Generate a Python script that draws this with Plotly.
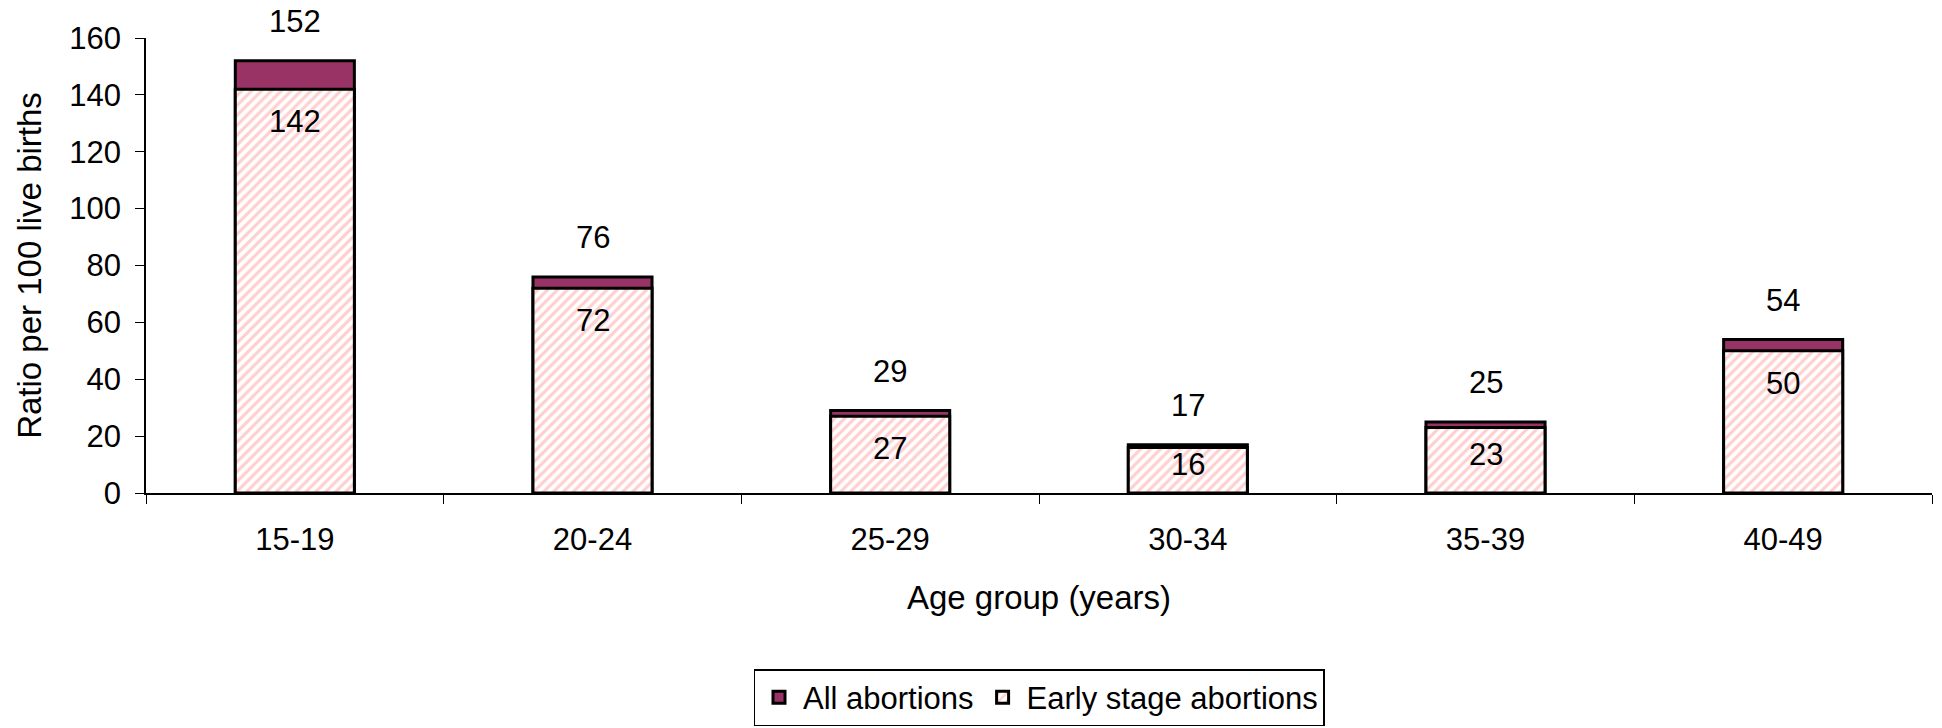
import plotly.graph_objects as go

# Abortion ratios per 100 live births, by age group of the woman
age_groups = ["15-19", "20-24", "25-29", "30-34", "35-39", "40-49"]
all_abortions = [152, 76, 29, 17, 25, 54]
early_stage = [142, 72, 27, 16, 23, 50]

FONT = "Liberation Sans, Arial, sans-serif"
FS = 31        # tick labels, value labels, legend
FS_TITLE = 33  # axis titles
PLUM = "#993366"
PINK = "#ff9f9f"

fig = go.Figure()

fig.add_trace(go.Bar(
    x=age_groups, y=all_abortions, name="All abortions",
    marker=dict(color=PLUM, line=dict(color="black", width=3)),
))
fig.add_trace(go.Bar(
    x=age_groups, y=early_stage, name="Early stage abortions",
    marker=dict(
        color="white",
        line=dict(color="black", width=3),
        pattern=dict(shape="/", fgcolor=PINK, bgcolor="white", size=7, solidity=0.45),
    ),
))

# value labels: totals above each bar, early-stage values inside the lower segment
for g, tot, early in zip(age_groups, all_abortions, early_stage):
    fig.add_annotation(x=g, y=tot, text=str(tot), showarrow=False,
                       yanchor="middle", yshift=39,
                       font=dict(family=FONT, size=FS, color="black"))
    fig.add_annotation(x=g, y=max(early - 11.5, early / 2 + 2), text=str(early),
                       showarrow=False, yanchor="middle",
                       font=dict(family=FONT, size=FS, color="black"))

fig.update_layout(
    width=1942, height=728,
    barmode="overlay", bargap=0.6,
    paper_bgcolor="white", plot_bgcolor="white",
    font=dict(family=FONT, size=FS, color="black"),
    margin=dict(l=146, r=10, t=38, b=235, autoexpand=False),
    showlegend=True,
    legend=dict(
        orientation="h", x=0.5, xanchor="center", y=-0.387, yanchor="top",
        bordercolor="black", borderwidth=1.5, font=dict(size=31),
        traceorder="normal", itemwidth=38,
    ),
)

fig.update_xaxes(
    showline=True, linecolor="black", linewidth=1.5,
    ticks="outside", ticklen=9, tickcolor="black", tickson="boundaries",
    ticklabelstandoff=18,
    title=dict(text="Age group (years)", standoff=30, font=dict(size=FS_TITLE)),
    showgrid=False, zeroline=False,
)
fig.update_yaxes(
    range=[0, 160], dtick=20,
    showline=True, linecolor="black", linewidth=1.5,
    ticks="outside", ticklen=9, tickcolor="black",
    ticklabelstandoff=8,
    title=dict(text="Ratio per 100 live births", standoff=18, font=dict(size=FS_TITLE)),
    showgrid=False, zeroline=False,
)

fig.write_html("out.html")
